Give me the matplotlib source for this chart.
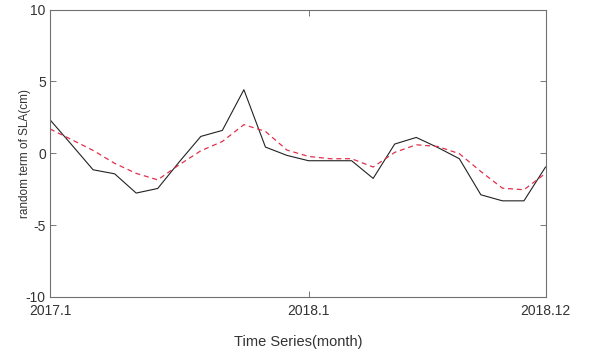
import matplotlib
matplotlib.use('Agg')
import matplotlib.pyplot as plt

# monthly values, 2017.1 .. 2018.12
months = list(range(24))
tick_pos = [0, 12, 23]
tick_labels = ['2017.1', '2018.1', '2018.12']

sla_random = [2.33, 0.6, -1.15, -1.43, -2.77, -2.45, -0.6, 1.17, 1.59, 4.42, 0.43, -0.15,
              -0.52, -0.52, -0.52, -1.75, 0.64, 1.10, 0.4, -0.38, -2.89, -3.31, -3.31, -0.96]
sla_fit = [1.69, 0.95, 0.2, -0.7, -1.4, -1.85, -0.8, 0.17, 0.82, 1.99, 1.52, 0.22,
           -0.22, -0.38, -0.38, -0.96, 0.06, 0.59, 0.47, -0.03, -1.27, -2.43, -2.54, -1.4]

plt.rcParams['font.family'] = ['Liberation Sans', 'DejaVu Sans']
plt.rcParams['axes.unicode_minus'] = False

fig = plt.figure(figsize=(5.89, 3.56), dpi=100)
ax = fig.add_axes([50/589, 1 - 297/356, 495.5/589, 287.5/356])

ax.plot(months, sla_random, color='#222222', lw=0.8)
ax.plot(months, sla_fit, color='#e0304a', lw=0.9, ls=(0, (4, 3)))

ax.set_xlim(0, 23)
ax.set_ylim(-10, 10)
ax.set_yticks([-10, -5, 0, 5, 10])
ax.set_xticks(tick_pos)
ax.set_xticklabels(tick_labels)
ax.tick_params(direction='in', length=4, width=0.6, colors='#606060',
               labelcolor='#333333', labelsize=10, top=True, right=True)
ax.tick_params(axis='x', pad=5)
ax.tick_params(axis='y', pad=3)
for sp in ax.spines.values():
    sp.set_color('#707070')
    sp.set_linewidth(0.8)

ax.set_xlabel('Time Series(month)', fontsize=10.5, color='#333333', labelpad=12)
ax.set_ylabel('random term of SLA(cm)', fontsize=8.5, color='#333333', labelpad=-4)

fig.savefig('out.png', dpi=100)
